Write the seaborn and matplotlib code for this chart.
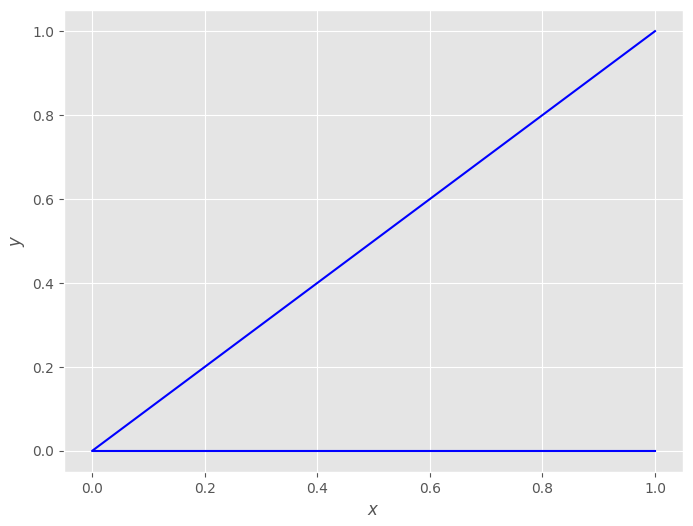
import pandas as pd
import matplotlib
matplotlib.use("Agg")
import matplotlib.pyplot as plt
import seaborn as sns

# path of the line: (1,1) -> (0,0) -> (1,0)
xs = [1.0, 0.0, 1.0]
ys = [1.0, 0.0, 0.0]

plt.style.use("ggplot")

df = pd.DataFrame({"x": xs, "y": ys})

fig = plt.figure(figsize=(6.93, 5.26), dpi=100)
ax = fig.add_axes([0.0921, 0.1027, 0.8937, 0.878])
sns.lineplot(data=df, x="x", y="y", sort=False, estimator=None,
             color="blue", linewidth=1.5, ax=ax)

ax.set_xlabel("$x$")
ax.set_ylabel("$y$")
ax.set_xticks([0.0, 0.2, 0.4, 0.6, 0.8, 1.0])
ax.set_yticks([0.0, 0.2, 0.4, 0.6, 0.8, 1.0])

fig.savefig("out.png", dpi=100)
